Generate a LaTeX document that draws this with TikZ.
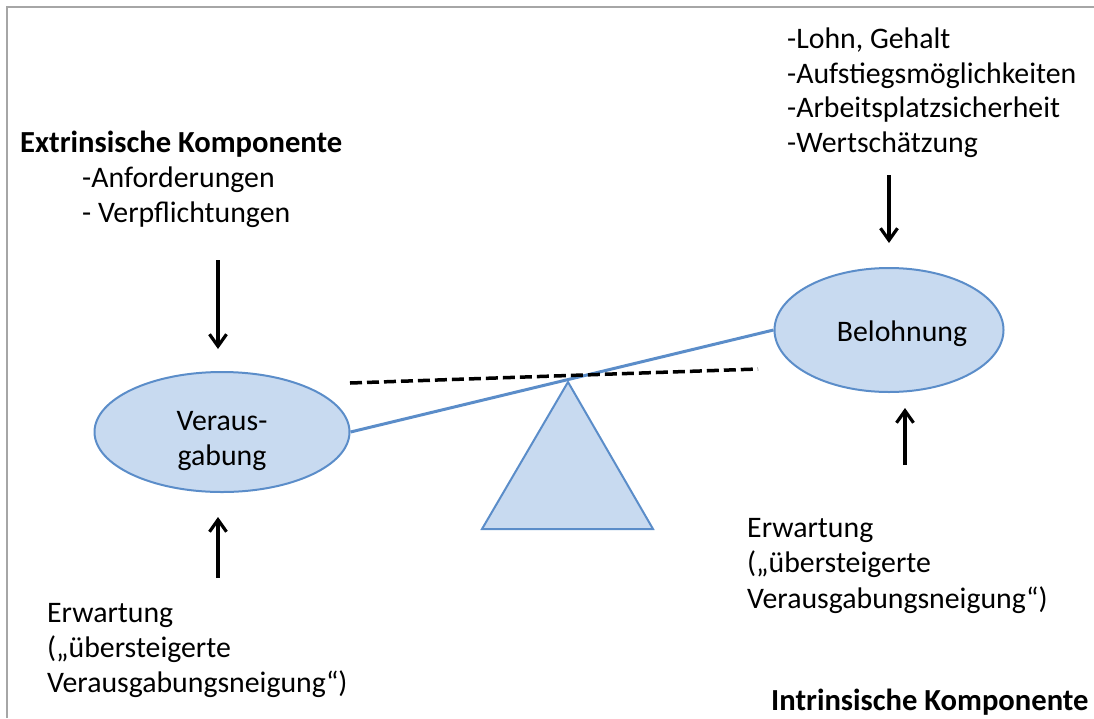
\documentclass[tikz,border=0pt]{standalone}
\usepackage{fontspec}
\setmainfont{Carlito}
\usetikzlibrary{shapes.geometric,arrows.meta}

\definecolor{shapefill}{HTML}{C8DAF0}
\definecolor{shapeline}{HTML}{5B8DC9}
\definecolor{frameline}{HTML}{A6A6A6}

\begin{document}
\begin{tikzpicture}[x=1pt,y=-1pt,
  txt/.style={anchor=base west,inner sep=0pt,font=\fontsize{29.8}{35}\selectfont},
  hdr/.style={anchor=base west,inner sep=0pt,font=\fontsize{30.6}{35}\selectfont\bfseries},
  oval/.style={ellipse,draw=shapeline,fill=shapefill,line width=2pt,inner sep=0pt},
  ovaltext/.style={inner sep=0pt,align=center,font=\fontsize{29.8}{35}\selectfont},
  push/.style={line width=3.2pt,-{Straight Barb[length=12pt,width=17pt]}},
  beam/.style={draw=shapeline,line width=3pt},
  level/.style={dash pattern=on 12pt off 5pt,line width=3.5pt}
]
\useasboundingbox (0,0) rectangle (1094,718);
\draw[frameline,line width=1.5pt] (7,718) -- (7,7) -- (1094,7);

% extrinsic side: demands
\node[hdr] (extr) at (20,152) {Extrinsische Komponente};
\node[txt] (req1) at (82,187) {-Anforderungen};
\node[txt] (req2) at (82,222) {- Verpflichtungen};

% rewards
\node[txt] (rew1) at (787,48)  {-Lohn, Gehalt};
\node[txt] (rew2) at (787,83)  {-Aufstiegsmöglichkeiten};
\node[txt] (rew3) at (787,117) {-Arbeitsplatzsicherheit};
\node[txt] (rew4) at (787,152) {-Wertschätzung};

% seesaw support
\path[draw=shapeline,fill=shapefill,line width=2pt]
  (568,382) -- (653,529) -- (482,529) -- cycle;

% the two pans
\node[oval,minimum width=255pt,minimum height=120pt,
  label={[ovaltext,yshift=-9pt]center:{Veraus-\\gabung}}] (veraus) at (222,432) {};
\node[oval,minimum width=229pt,minimum height=124pt,
  label={[ovaltext,xshift=13pt,yshift=-4pt]center:Belohnung}] (beloh) at (889,330) {};

% beam and level line
\draw[beam] (veraus.east) -- (beloh.west);
\coordinate (lvlL) at (350,383);
\coordinate (lvlR) at (758,369);
\draw[level] (lvlL) -- (lvlR);

% intrinsic side: expectations
\node[txt] (expL1) at (47,622) {Erwartung};
\node[txt] (expL2) at (47,657) {(„übersteigerte};
\node[txt] (expL3) at (47,692) {Verausgabungsneigung“)};

\node[txt] (expR1) at (747,537) {Erwartung};
\node[txt] (expR2) at (747,572) {(„übersteigerte};
\node[txt] (expR3) at (747,608) {Verausgabungsneigung“)};

\node[hdr] (intr) at (771,710) {Intrinsische Komponente};

% arrows onto the pans
\coordinate (pushA) at (218,260);
\coordinate (pushB) at (218,578);
\coordinate (pushC) at (889,175);
\coordinate (pushD) at (905,465);
\draw[push,shorten >=22pt] (pushA) -- (pushA |- veraus.north);
\draw[push,shorten >=24pt] (pushB) -- (pushB |- veraus.south);
\draw[push,shorten >=24pt] (pushC) -- (pushC |- beloh.north);
\draw[push,shorten >=15pt] (pushD) -- (pushD |- beloh.south);
\end{tikzpicture}
\end{document}
